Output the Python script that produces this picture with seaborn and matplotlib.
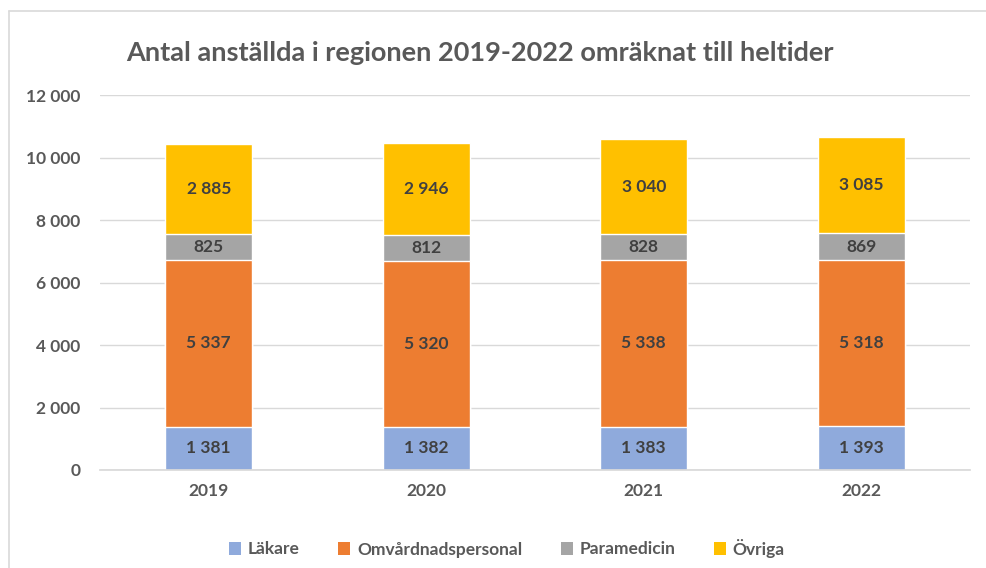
import matplotlib
matplotlib.use("Agg")
import matplotlib.pyplot as plt
from matplotlib.lines import Line2D
from matplotlib.patches import Patch
import seaborn as sns
import pandas as pd
import numpy as np

sns.set_theme(style="white")
plt.rcParams["font.family"] = ["Lato", "DejaVu Sans"]

# data
years = ["2019", "2020", "2021", "2022"]
lakare = [1381, 1382, 1383, 1393]
omvard = [5337, 5320, 5338, 5318]
paramed = [825, 812, 828, 869]
ovriga = [2885, 2946, 3040, 3085]

series = ["Läkare", "Omvårdnadspersonal", "Paramedicin", "Övriga"]
colors = ["#8FAADC", "#ED7D31", "#A5A5A5", "#FFC000"]

df = pd.DataFrame({
    "year": years,
    "Läkare": lakare,
    "Omvårdnadspersonal": omvard,
    "Paramedicin": paramed,
    "Övriga": ovriga,
})
cum = df[series].cumsum(axis=1)

fig = plt.figure(figsize=(9.86, 5.68), dpi=100)
ax = fig.add_axes([100 / 986, 1 - 470 / 568, 870 / 986, 375 / 568])

# stacked bars: draw tallest first
for s, c in reversed(list(zip(series, colors))):
    sns.barplot(data=cum.assign(year=years), x="year", y=s, color=c,
                width=0.4, saturation=1, ax=ax, zorder=2)

def fmt(v):
    return f"{int(v):,}".replace(",", " ")

for s in series:
    for i in range(len(years)):
        val = df[s][i]
        ymid = cum[s][i] - val / 2
        ax.text(i, ymid, fmt(val), ha="center", va="center",
                fontsize=12.5, fontweight="bold", color="#404040", zorder=3)

ax.set_ylim(0, 12000)
ax.set_xlim(-0.5, 3.5)
ax.set_yticks(range(0, 12001, 2000))
ax.set_yticklabels([fmt(v) for v in range(0, 12001, 2000)])
ax.yaxis.grid(True, color="#D9D9D9", linewidth=1, zorder=0)
ax.set_axisbelow(True)
for sp in ["top", "right", "left"]:
    ax.spines[sp].set_visible(False)
ax.spines["bottom"].set_color("#D9D9D9")
ax.set_xlabel("")
ax.set_ylabel("")
ax.tick_params(axis="both", length=0, labelsize=12.5, labelcolor="#595959")
ax.tick_params(axis="y", pad=14)
ax.tick_params(axis="x", pad=9)
for lab in ax.get_xticklabels() + ax.get_yticklabels():
    lab.set_fontweight("bold")

fig.text(480 / 986, 1 - 53 / 568,
         "Antal anställda i regionen 2019-2022 omräknat till heltider",
         ha="center", va="center", fontsize=19.5, fontweight="bold", color="#595959")

handles = [Patch(facecolor=c, edgecolor="none") for c in colors]
leg = fig.legend(handles, series, loc="center", bbox_to_anchor=(507 / 986, 1 - 548 / 568),
                 ncol=4, frameon=False, fontsize=12.5, handlelength=0.7, handleheight=0.7,
                 handletextpad=0.4, columnspacing=2.2)
for t in leg.get_texts():
    t.set_fontweight("bold")
    t.set_color("#595959")

# chart area border
fig.add_artist(Line2D([9 / 986, 1], [1 - 11 / 568, 1 - 11 / 568], color="#D9D9D9", lw=1.2))
fig.add_artist(Line2D([9 / 986, 9 / 986], [0, 1 - 11 / 568], color="#D9D9D9", lw=1.2))

fig.savefig("out.png", dpi=100)
